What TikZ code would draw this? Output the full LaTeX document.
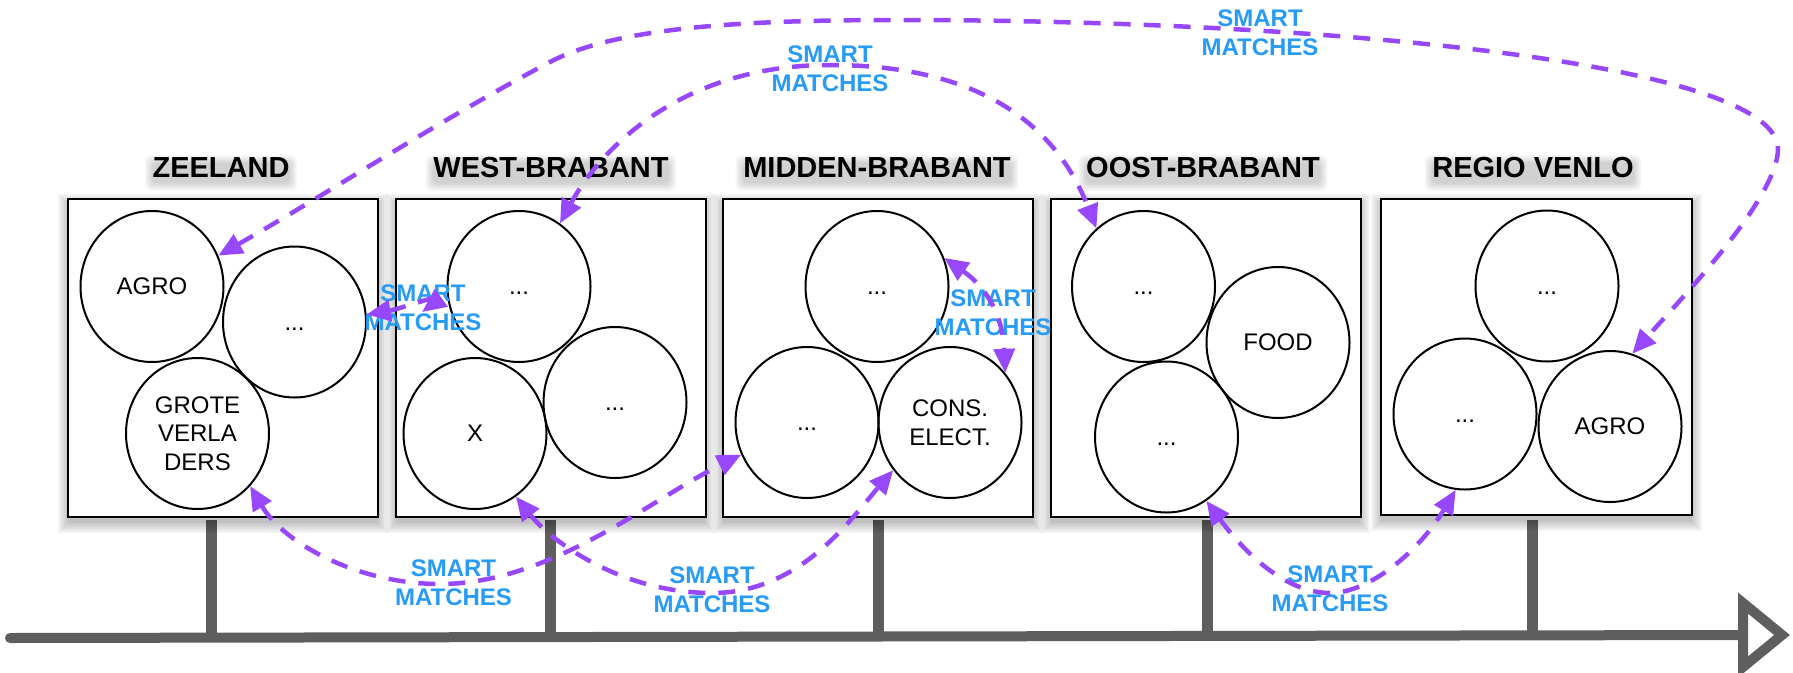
\documentclass[tikz,border=0pt]{standalone}
\usepackage{fontspec}
\setmainfont{Liberation Sans}
\usetikzlibrary{arrows.meta,shapes.geometric}
\pgfdeclarelayer{bg}
\pgfsetlayers{bg,main}
\definecolor{mpurple}{RGB}{152,72,252}
\definecolor{mblue}{RGB}{40,155,245}
\definecolor{tlgray}{RGB}{94,94,94}
\tikzset{
  regionbox/.style={draw=black, line width=2pt, fill=white, minimum width=310pt, minimum height=318pt, inner sep=0pt},
  sector/.style={ellipse, draw=black, line width=2pt, minimum width=143pt, minimum height=151pt, inner sep=0pt, align=center, font=\fontsize{24}{28.5}\selectfont},
  regiontitle/.style={font=\fontsize{29}{34}\selectfont\bfseries, inner sep=0pt},
  matchlabel/.style={text=mblue, font=\fontsize{24}{29}\selectfont\bfseries, align=center, inner sep=0pt},
  matcharrow/.style={draw=mpurple, line width=4.5pt, dash pattern=on 17pt off 13pt,
     {Triangle[length=24pt,width=21pt]}-{Triangle[length=24pt,width=21pt]}},
  timeline/.style={draw=tlgray, line width=10pt},
}
\newcommand{\boxshade}[4]{%
  \foreach \s in {0,2,...,10}{\fill[black,opacity=0.045] (#1-\s,#2+5-\s) rectangle (#3+\s,#4+6+\s);}}
\begin{document}
\begin{tikzpicture}[x=1pt,y=-1pt]
\useasboundingbox (0,0) rectangle (1793,672);
\begin{pgfonlayer}{bg}
\fill[white] (0,0) rectangle (1793,672);
\end{pgfonlayer}

% timeline
\draw[timeline, line cap=round] (10,638) -- (1743,635);
\foreach \px in {211,550,878,1207,1532}{\draw[tlgray, line width=11pt] (\px,520) -- (\px,636);}
\draw[timeline, fill=white, line join=miter] (1743,603) -- (1743,667) -- (1782,635) -- cycle;

% box shadows
\boxshade{68}{199}{378}{517}
\boxshade{396}{199}{705}{517}
\boxshade{723}{199}{1033}{517}
\boxshade{1051}{199}{1360}{517}
\boxshade{1381}{199}{1692}{515}

% boxes
\node[regionbox] (b1) at (223,358) {};
\node[regionbox] (b2) at (550.5,358) {};
\node[regionbox] (b3) at (878,358) {};
\node[regionbox] (b4) at (1205.5,358) {};
\node[regionbox, minimum width=311pt, minimum height=316pt] (b5) at (1536.5,357) {};

% titles
\node[regiontitle] (t1) at (221,168) {ZEELAND};
\node[regiontitle] (t2) at (551,168) {WEST-BRABANT};
\node[regiontitle] (t3) at (877,168) {MIDDEN-BRABANT};
\node[regiontitle] (t4) at (1203,168) {OOST-BRABANT};
\node[regiontitle] (t5) at (1533,168) {REGIO VENLO};
\begin{pgfonlayer}{bg}
\foreach \t in {t1,t2,t3,t4,t5}{
  \foreach \s in {0,1.5,...,7.5}{
    \fill[black, opacity=0.03, rounded corners=6pt]
      ([xshift=-\s pt, yshift=-5pt-\s pt]\t.south west) rectangle ([xshift=\s pt, yshift=-5pt+\s pt]\t.north east);
  }
}
\end{pgfonlayer}

% sectors
\node[sector] (za) at (152,286.5) {AGRO};
\node[sector] (zd) at (294.5,322) {\vphantom{A}...};
\node[sector] (zg) at (197.5,433.5) {GROTE\\VERLA\\DERS};
\node[sector] (wt) at (519,286.5) {\vphantom{A}...};
\node[sector] (wx) at (475,433.5) {X};
\node[sector] (wd) at (615,402.5) {\vphantom{A}...};
\node[sector] (mt) at (877,286.5) {\vphantom{A}...};
\node[sector] (ml) at (807,422.5) {\vphantom{A}...};
\node[sector] (mc) at (950,422.5) {CONS.\\ELECT.};
\node[sector] (ot) at (1143.5,286.5) {\vphantom{A}...};
\node[sector] (of) at (1278,342.5) {FOOD};
\node[sector] (ob) at (1166.5,437) {\vphantom{A}...};
\node[sector] (vt) at (1547,286) {\vphantom{A}...};
\node[sector] (vl) at (1465,414) {\vphantom{A}...};
\node[sector] (va) at (1610,426.5) {AGRO};

% labels
\node[matchlabel] (l1) at (1260,33) {SMART\\MATCHES};
\node[matchlabel] (l2) at (830,69) {SMART\\MATCHES};
\node[matchlabel] (l3) at (423,307.5) {SMART\\MATCHES};
\node[matchlabel] (l4) at (993,313) {SMART\\MATCHES};
\node[matchlabel] (l5) at (453.5,583) {SMART\\MATCHES};
\node[matchlabel] (l6) at (712,590) {SMART\\MATCHES};
\node[matchlabel] (l7) at (1330,589) {SMART\\MATCHES};

% connectors
\coordinate (wtip) at (422,312);
\draw[matcharrow] (za.25) .. controls (330,192) and (440,120) .. (550,62)
   .. controls (620,25) and (760,20) .. (900,20)
   .. controls (1300,20) and (1780,60) .. (1778,150)
   .. controls (1776,200) and (1680,300) .. (va.73);
\draw[matcharrow] (wt.57) .. controls (600,150) and (680,65) .. (830,65)
   .. controls (960,65) and (1050,110) .. (ot.129);
\draw[matcharrow] (zd.6) .. controls (400,309) and (452,290) .. (wtip);
\draw[matcharrow] (mt.23) .. controls (990,290) and (1003,320) .. (mc.42);
\draw[matcharrow] (zg.-45) .. controls (285,545) and (360,584) .. (440,584)
   .. controls (550,584) and (650,500) .. (ml.206);
\draw[matcharrow] (wx.-57) .. controls (550,540) and (620,593) .. (712,593)
   .. controls (800,593) and (850,520) .. (mc.220);
\draw[matcharrow] (ob.-58) .. controls (1250,560) and (1290,593) .. (1330,593)
   .. controls (1370,593) and (1420,550) .. (vl.-97);
\end{tikzpicture}
\end{document}
